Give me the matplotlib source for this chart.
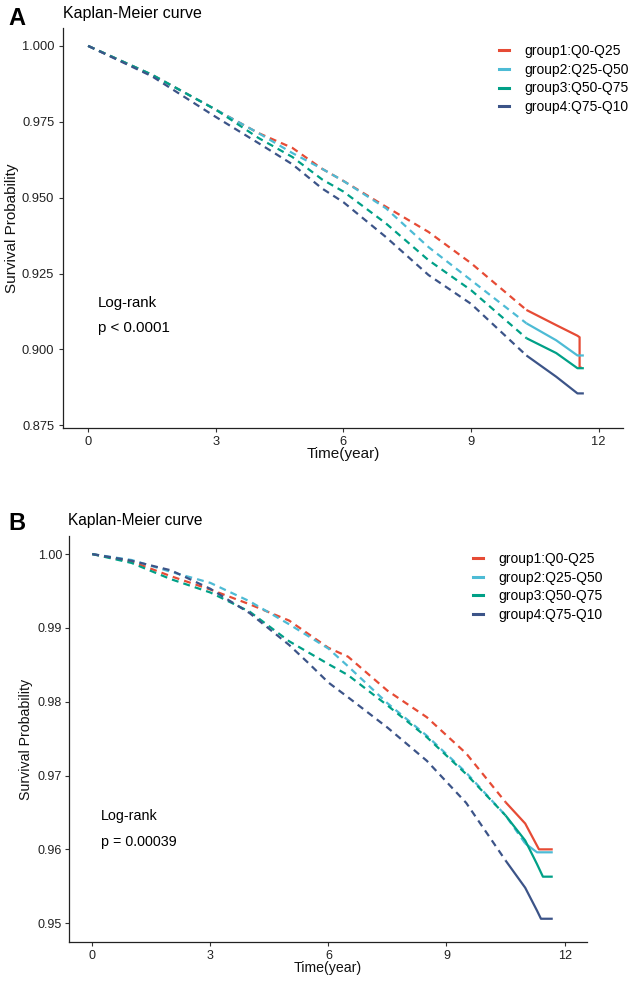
import numpy as np
import matplotlib
matplotlib.use("Agg")
import matplotlib.pyplot as plt
from matplotlib.lines import Line2D

plt.rcParams['font.family'] = ['Liberation Sans', 'DejaVu Sans']

# ---------------- data ----------------
group_labels = ["group1:Q0-Q25", "group2:Q25-Q50", "group3:Q50-Q75", "group4:Q75-Q10"]
colors = ["#E64B35", "#4DBBD5", "#00A087", "#3C5488"]

# Panel A
a_t1 = [0, 1.5, 3, 4, 4.8, 5.5, 6, 7, 8, 9, 10.3, 11.0, 11.5, 11.55, 11.55, 11.6]
a_s1 = [1, .9905, .979, .9713, .9664, .9595, .9555, .947, .9387, .9284, .913, .908, .9045, .904, .894, .894]
a_t2 = [0, 1.5, 3, 4, 4.8, 5.5, 6, 7, 8, 9, 10.3, 11.0, 11.5, 11.65]
a_s2 = [1, .9905, .979, .9713, .9647, .9595, .9555, .9465, .9337, .9228, .9086, .903, .898, .898]
a_t3 = [0, 1.5, 3, 4, 4.8, 5.5, 6, 7, 8, 9, 10.3, 11.0, 11.5, 11.65]
a_s3 = [1, .9905, .979, .9697, .9634, .956, .952, .9415, .9294, .9195, .9037, .8988, .8938, .8938]
a_t4 = [0, 1.5, 3, 4, 4.8, 5.5, 6, 7, 8, 9, 10.3, 11.0, 11.5, 11.65]
a_s4 = [1, .990, .9766, .968, .961, .953, .9485, .937, .9245, .915, .898, .891, .8855, .8855]

# Panel B
b_t1 = [0, 1, 2, 3, 4, 5, 6, 6.5, 7.5, 8.5, 9.5, 10.5, 11.0, 11.35, 11.7]
b_s1 = [1, .999, .997, .9952, .9932, .991, .9873, .9861, .9815, .9779, .973, .9664, .9635, .960, .960]
b_t2 = [0, 1, 2, 3, 4, 5, 6, 6.5, 7.5, 8.5, 9.5, 10.5, 11.0, 11.3, 11.7]
b_s2 = [1, .9992, .9976, .9961, .9936, .9905, .9872, .9848, .9798, .9754, .9704, .9646, .9608, .9596, .9596]
b_t3 = [0, 1, 2, 3, 4, 5, 6, 6.5, 7.5, 8.5, 9.5, 10.5, 11.0, 11.3, 11.45, 11.7]
b_s3 = [1, .9988, .9966, .9948, .9922, .9882, .9851, .9836, .9795, .9752, .9702, .9646, .9612, .958, .9563, .9563]
b_t4 = [0, 1, 2, 3, 4, 5, 5.5, 6, 6.5, 7.5, 8.5, 9.5, 10.5, 11.0, 11.3, 11.4, 11.7]
b_s4 = [1, .9991, .9978, .9953, .992, .9877, .9852, .9826, .9806, .9765, .972, .9663, .9585, .9548, .9517, .9506, .9506]

a_yticks = [0.875, 0.900, 0.925, 0.950, 0.975, 1.000]
a_yticklabels = ["0.875", "0.900", "0.925", "0.950", "0.975", "1.000"]
b_yticks = [0.95, 0.96, 0.97, 0.98, 0.99, 1.00]
b_yticklabels = ["0.95", "0.96", "0.97", "0.98", "0.99", "1.00"]
xticks = [0, 3, 6, 9, 12]

# ---------------- figure ----------------
fig = plt.figure(figsize=(6.34, 9.84), dpi=100)
W, H = 634, 984

def make_axes(l, r, t, b):
    return fig.add_axes([l / W, 1 - b / H, (r - l) / W, (b - t) / H])

axA = make_axes(63, 623, 28, 428)
axB = make_axes(69, 587, 536, 942)


def draw_curve(ax, t, s, color, solid_from):
    t = np.asarray(t); s = np.asarray(s)
    k = int(np.searchsorted(t, solid_from))
    ln, = ax.plot(t[:k + 1], s[:k + 1], color=color, lw=1.6, dash_capstyle='butt')
    ln.set_dashes((3.1, 2.3))
    ax.plot(t[k:], s[k:], color=color, lw=1.6, solid_capstyle='butt')


def style_axes(ax, ylim, yticks, yticklabels, tick_fs, pad_y):
    ax.set_xlim(-0.59, 12.57)
    ax.set_ylim(*ylim)
    ax.set_xticks(xticks)
    ax.set_xticklabels([str(v) for v in xticks])
    ax.set_yticks(yticks)
    ax.set_yticklabels(yticklabels)
    for sp in ['top', 'right']:
        ax.spines[sp].set_visible(False)
    for sp in ['left', 'bottom']:
        ax.spines[sp].set_linewidth(0.9)
        ax.spines[sp].set_color('#222222')
    ax.tick_params(axis='both', length=3, width=0.8, color='#333333',
                   labelsize=tick_fs, labelcolor='#222222')
    ax.tick_params(axis='y', pad=pad_y)
    ax.tick_params(axis='x', pad=3)


# Panel A
a_ts = [a_t1, a_t2, a_t3, a_t4]
a_ss = [a_s1, a_s2, a_s3, a_s4]
a_solid = [10.3, 10.3, 10.3, 10.3]
for t, s, c, sf in zip(a_ts, a_ss, colors, a_solid):
    draw_curve(axA, t, s, c, sf)
style_axes(axA, (0.8741, 1.0059), a_yticks, a_yticklabels, 9.3, 3.3)

# Panel B
b_ts = [b_t1, b_t2, b_t3, b_t4]
b_ss = [b_s1, b_s2, b_s3, b_s4]
b_solid = [10.5, 11.0, 10.5, 10.5]
for t, s, c, sf in zip(b_ts, b_ss, colors, b_solid):
    draw_curve(axB, t, s, c, sf)
style_axes(axB, (0.94745, 1.00245), b_yticks, b_yticklabels, 9.0, 2)

# labels
for ax, fs, ylx, xly in [(axA, 11, -0.079, -0.047), (axB, 10.2, -0.07, -0.048)]:
    ax.set_xlabel("Time(year)", fontsize=fs, color='#111111')
    ax.set_ylabel("Survival Probability", fontsize=fs, color='#111111')
    ax.yaxis.set_label_coords(ylx, 0.5)
    ax.xaxis.set_label_coords(0.5, xly)

# titles and panel letters
fig.text(63 / W, 1 - 18 / H, "Kaplan-Meier curve", fontsize=11.5, ha='left', va='baseline')
fig.text(68 / W, 1 - 525 / H, "Kaplan-Meier curve", fontsize=11.2, ha='left', va='baseline')
fig.text(8 / W, 1 - 25 / H, "A", fontsize=17, fontweight='bold', ha='left', va='baseline')
fig.text(8 / W, 1 - 530 / H, "B", fontsize=17, fontweight='bold', ha='left', va='baseline')

# log-rank annotations
axA.text(0.23, 0.9139, "Log-rank", fontsize=10.8, va='baseline', ha='left')
axA.text(0.23, 0.9058, "p < 0.0001", fontsize=10.8, va='baseline', ha='left')
axB.text(0.23, 0.9640, "Log-rank", fontsize=10.3, va='baseline', ha='left')
axB.text(0.23, 0.9605, "p = 0.00039", fontsize=10.3, va='baseline', ha='left')

# legends
def add_legend(ax, x, y):
    handles = [Line2D([0], [0], color=c, lw=2.2) for c in colors]
    ax.legend(handles, group_labels, loc='upper left', bbox_to_anchor=(x, y),
              frameon=False, fontsize=10, handlelength=0.75, handletextpad=1.05,
              labelspacing=0.34, borderpad=0, borderaxespad=0)

add_legend(axA, 0.7786, 0.960)
add_legend(axB, 0.780, 0.961)

fig.savefig("out.png", dpi=100)
